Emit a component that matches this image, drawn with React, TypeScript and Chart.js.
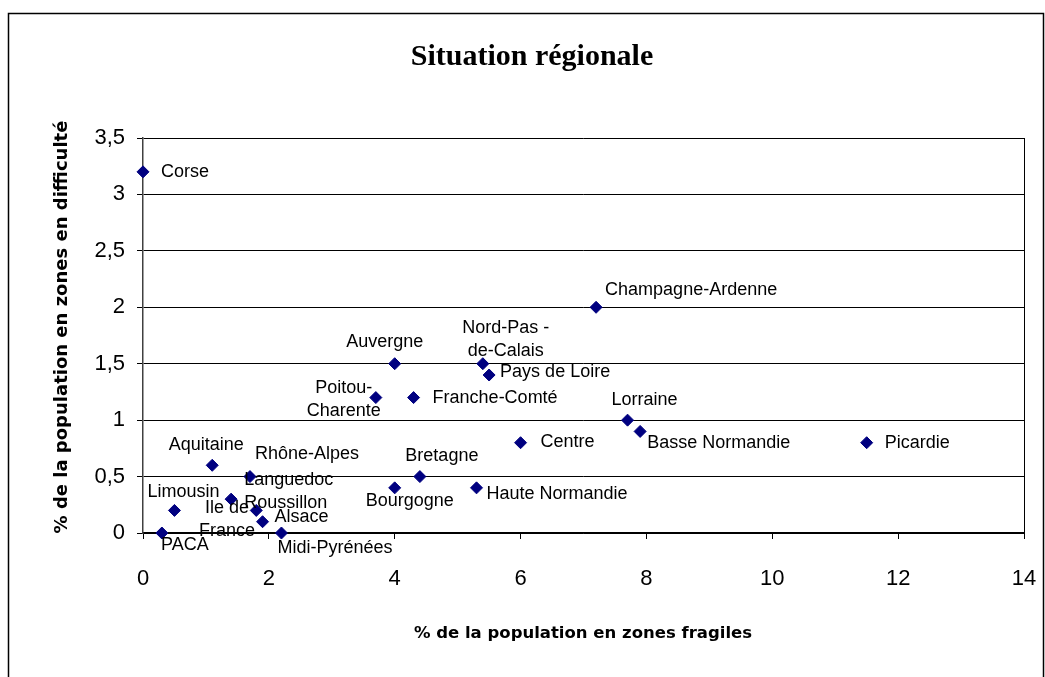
import React, { useEffect, useRef } from "react";
import { Chart, registerables } from "chart.js";

Chart.register(...registerables);

// ---- data ----
const regions: string[] = [
  "Corse",
  "PACA",
  "Limousin",
  "Aquitaine",
  "Ile de\nFrance",
  "Rhône-Alpes",
  "Languedoc\nRoussillon",
  "Alsace",
  "Midi-Pyrénées",
  "Bourgogne",
  "Bretagne",
  "Haute Normandie",
  "Centre",
  "Poitou-\nCharente",
  "Franche-Comté",
  "Auvergne",
  "Nord-Pas -\nde-Calais",
  "Pays de Loire",
  "Champagne-Ardenne",
  "Lorraine",
  "Basse Normandie",
  "Picardie",
];

// % de la population en zones fragiles
const fragiles: number[] = [0, 0.3, 0.5, 1.1, 1.4, 1.7, 1.8, 1.9, 2.2, 4.0, 4.4, 5.3, 6.0, 3.7, 4.3, 4.0, 5.4, 5.5, 7.2, 7.7, 7.9, 11.5];

// % de la population en zones en difficulté
const difficulte: number[] = [3.2, 0, 0.2, 0.6, 0.3, 0.5, 0.2, 0.1, 0, 0.4, 0.5, 0.4, 0.8, 1.2, 1.2, 1.5, 1.5, 1.4, 2.0, 1.0, 0.9, 0.8];

const xTickMin = 0;
const xTickMax = 14;
const xTickStep = 2;
const yTickMin = 0;
const yTickMax = 3.5;
const yTickStep = 0.5;

const titleText = "Situation régionale";
const xTitleText = "% de la population en zones fragiles";
const yTitleText = "% de la population en zones en difficulté";

// ---- label layout (offset from point in px, alignment) ----
const labelOffsets: [number, number, CanvasTextAlign][] = [
  [18, 0, "left"], // Corse
  [23, 12, "center"], // PACA
  [9, -18, "center"], // Limousin
  [-6, -20, "center"], // Aquitaine
  [-4, 9, "center"], // Ile de France
  [5, -23, "left"], // Rhône-Alpes
  [-12, -30, "left"], // Languedoc
  [12, -5, "left"], // Alsace
  [-4, 15, "left"], // Midi-Pyrénées
  [15, 13, "center"], // Bourgogne
  [22, -21, "center"], // Bretagne
  [10, 6, "left"], // Haute Normandie
  [20, -1, "left"], // Centre
  [-32, -10, "center"], // Poitou-Charente
  [19, 0, "left"], // Franche-Comté
  [-10, -22, "center"], // Auvergne
  [23, -36, "center"], // Nord-Pas-de-Calais
  [11, -3, "left"], // Pays de Loire
  [9, -17, "left"], // Champagne-Ardenne
  [17, -20, "center"], // Lorraine
  [7, 12, "left"], // Basse Normandie
  [18, 0, "left"], // Picardie
];

const LABEL_FONT = '18px "Liberation Sans", Arial, sans-serif';
const LINE_H = 23;

const decorPlugin = {
  id: "decor",
  beforeDraw(chart: any) {
    const ctx = chart.ctx;
    ctx.save();
    ctx.fillStyle = "#fff";
    ctx.fillRect(0, 0, chart.width, chart.height);
    ctx.restore();
  },
  afterDraw(chart: any) {
    const ctx = chart.ctx;
    const ca = chart.chartArea;
    ctx.save();
    // outer frame
    ctx.strokeStyle = "#000";
    ctx.lineWidth = 1.5;
    ctx.strokeRect(8.5, 13.5, 1035, 700);
    // plot right border
    ctx.lineWidth = 1;
    ctx.beginPath();
    ctx.moveTo(Math.round(ca.right) + 0.5, ca.top);
    ctx.lineTo(Math.round(ca.right) + 0.5, ca.bottom + 6);
    ctx.stroke();
    // title
    ctx.fillStyle = "#000";
    ctx.textAlign = "center";
    ctx.textBaseline = "middle";
    ctx.font = 'bold 30px "Liberation Serif", "Times New Roman", serif';
    ctx.fillText(titleText, 532, 57);
    // axis titles
    ctx.font = 'bold 16.5px "DejaVu Sans", sans-serif';
    ctx.fillText(xTitleText, 583, 634);
    ctx.translate(62, 327);
    ctx.rotate(-Math.PI / 2);
    ctx.font = 'bold 18px "DejaVu Sans", sans-serif';
    ctx.fillText(yTitleText, 0, 0);
    ctx.restore();
  },
  afterDatasetsDraw(chart: any) {
    const ctx = chart.ctx;
    const meta = chart.getDatasetMeta(0);
    ctx.save();
    ctx.font = LABEL_FONT;
    ctx.fillStyle = "#000";
    ctx.textBaseline = "middle";
    meta.data.forEach((pt: any, i: number) => {
      const [dx, dy, align] = labelOffsets[i];
      ctx.textAlign = align;
      regions[i].split("\n").forEach((line, j) => {
        ctx.fillText(line, pt.x + dx, pt.y + dy + j * LINE_H);
      });
    });
    ctx.restore();
  },
};

export default function App() {
  const ref = useRef<HTMLCanvasElement | null>(null);

  useEffect(() => {
    if (!ref.current) return;
    const tickFont = { family: '"Liberation Sans", Arial, sans-serif', size: 22 };
    const chart = new Chart(ref.current, {
      type: "scatter",
      data: {
        datasets: [
          {
            label: "Régions",
            data: fragiles.map((x, i) => ({ x, y: difficulte[i] })),
            pointStyle: "rectRot",
            pointRadius: 6,
            pointHoverRadius: 6,
            backgroundColor: "#000080",
            borderColor: "#000080",
            borderWidth: 1,
            clip: false as any,
          },
        ],
      },
      options: {
        animation: false,
        responsive: false,
        maintainAspectRatio: false,
        events: [],
        layout: { padding: { top: 138, right: 21, left: 0, bottom: 0 } },
        plugins: {
          legend: { display: false },
          tooltip: { enabled: false },
          title: { display: false },
        },
        scales: {
          x: {
            type: "linear",
            min: xTickMin,
            max: xTickMax,
            ticks: {
              stepSize: xTickStep,
              font: tickFont,
              color: "#000",
              padding: 27,
              maxRotation: 0,
            },
            grid: {
              drawOnChartArea: false,
              drawTicks: true,
              tickLength: 6,
              color: "#000",
            },
            border: { color: "#000", width: 1.5 },
            afterFit: (s: any) => {
              s.height = 144;
              s.paddingLeft = 0;
              s.paddingRight = 0;
            },
          },
          y: {
            type: "linear",
            min: yTickMin,
            max: yTickMax,
            ticks: {
              stepSize: yTickStep,
              font: tickFont,
              color: "#000",
              padding: 12,
              callback: (v: any) => String(v).replace(".", ","),
            },
            grid: {
              color: "#000",
              lineWidth: 1,
              drawTicks: true,
              tickLength: 6,
            },
            border: { color: "#404040", width: 1.5 },
            afterFit: (s: any) => {
              s.width = 143;
              s.paddingTop = 0;
              s.paddingBottom = 0;
            },
          },
        },
      },
      plugins: [decorPlugin],
    });
    return () => chart.destroy();
  }, []);

  return (
    <canvas
      ref={ref}
      width={1045}
      height={677}
      style={{ position: "fixed", left: 0, top: 0, width: 1045, height: 677 }}
    />
  );
}
